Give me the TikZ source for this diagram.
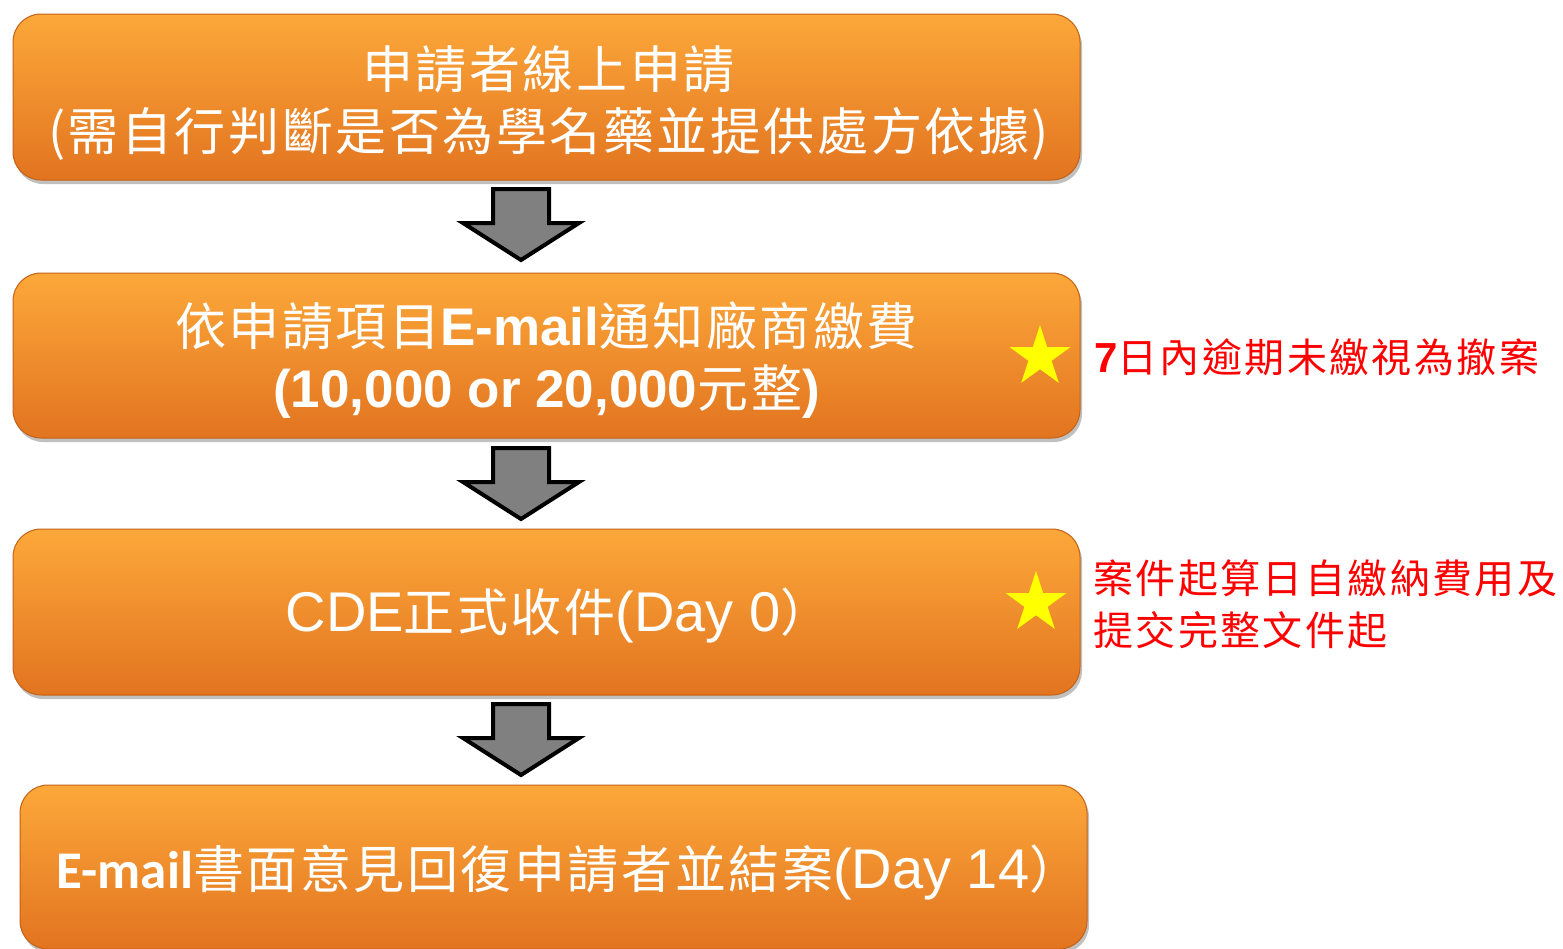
\documentclass[tikz,border=0pt]{standalone}
\usepackage{fontspec}
\usetikzlibrary{shapes.geometric,shadows}
\newfontfamily\cjk[LetterSpace=5]{Noto Sans CJK TC}
\newfontfamily\cjknote[LetterSpace=6]{Noto Sans CJK TC}
\newfontfamily\arialf{Liberation Sans}
\newfontfamily\calib{Carlito}
\definecolor{boxtop}{RGB}{252,168,58}
\definecolor{boxmid}{RGB}{246,144,44}
\definecolor{boxbot}{RGB}{226,116,32}
\definecolor{boxedge}{RGB}{196,98,22}
\definecolor{arrowgray}{RGB}{128,128,128}
\definecolor{staryellow}{RGB}{255,255,0}
\definecolor{notered}{RGB}{255,0,0}
\tikzset{
  flowbox/.style={rectangle, rounded corners=28pt, top color=boxtop, middle color=boxmid, bottom color=boxbot,
    draw=boxedge, line width=1pt, minimum width=1067pt, inner sep=0pt,
    drop shadow={shadow xshift=2pt, shadow yshift=-4pt, opacity=0.35, fill=black!70}},
  boxtext/.style={text=white, align=center, inner sep=0pt, font=\cjk\fontsize{51}{62}\selectfont},
  notetext/.style={text=notered, align=left, inner sep=0pt, font=\cjknote\fontsize{40}{52}\selectfont},
  downarrow/.style={fill=arrowgray, draw=black, line width=4pt, line join=miter},
  yellowstar/.style={star, star points=5, star point ratio=2.618, minimum size=64pt, inner sep=0pt, fill=staryellow, draw=none},
  blockarrow/.pic={\draw[downarrow] (-28,0) -- (28,0) -- (28,34) -- (58,34) -- (0,71) -- (-58,34) -- (-28,34) -- cycle;}
}
\begin{document}
\begin{tikzpicture}[x=1pt,y=-1pt]
\useasboundingbox (0,0) rectangle (1563,948);
\fill[white] (0,0) rectangle (1563,948);
% boxes
\node[flowbox, minimum height=166pt] (b1) at (546.5,97) {};
\node[flowbox, minimum height=165pt] (b2) at (546.5,355.5) {};
\node[flowbox, minimum height=166pt] (b3) at (546.5,612) {};
\node[flowbox, minimum height=164pt] (b4) at (553.5,867) {};
% texts
\node[boxtext] (t1) at ([xshift=2pt,yshift=-6pt]b1.center) {申請者線上申請\\(需自行判斷是否為學名藥並提供處方依據)};
\node[boxtext] (t2) at ([yshift=-5pt]b2.center) {依申請項目{\arialf\bfseries\fontsize{53}{62}\selectfont E-mail}通知廠商繳費\\{\arialf\bfseries\fontsize{53}{62}\selectfont (10,000 or 20,000}元整{\arialf\bfseries\fontsize{53}{62}\selectfont )}};
\node[boxtext] (t3) at ([xshift=12pt,yshift=-3pt]b3.center) {{\arialf\fontsize{56}{62}\selectfont CDE}正式收件{\arialf\fontsize{56}{62}\selectfont (Day 0}）};
\node[boxtext] (t4) at ([xshift=15pt,yshift=-5pt]b4.center) {{\calib\bfseries\fontsize{53}{62}\selectfont E-mail}書面意見回復申請者並結案{\arialf\fontsize{56}{62}\selectfont (Day 14}）};
% arrows between boxes
\pic at (521,189) {blockarrow};
\pic at (521,448) {blockarrow};
\pic at (521,704) {blockarrow};
% stars
\node[yellowstar] (s2) at (1040,357) {};
\node[yellowstar] (s3) at (1036,603) {};
% notes
\node[notetext, anchor=west] (n2) at (1094,357) {{\arialf\bfseries\fontsize{42}{52}\selectfont 7}日內逾期未繳視為撤案};
\node[notetext, anchor=west] (n3) at (1093,604) {案件起算日自繳納費用及\\提交完整文件起};
\end{tikzpicture}
\end{document}
